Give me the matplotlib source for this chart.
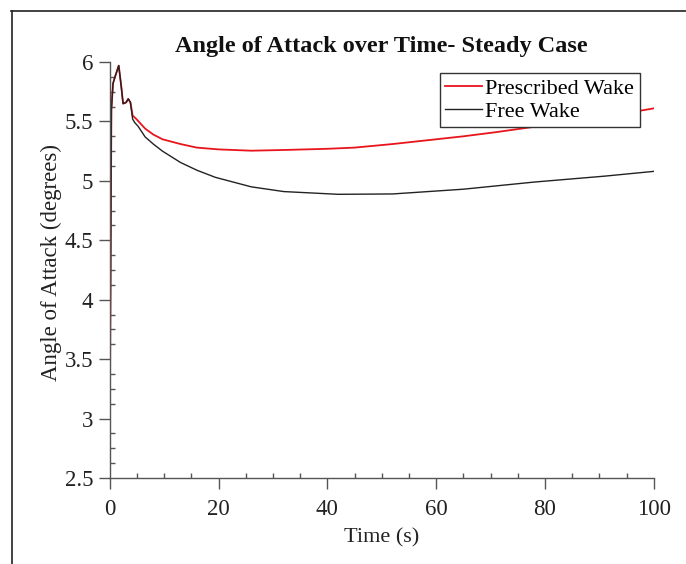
import matplotlib.pyplot as plt
import numpy as np
from matplotlib.lines import Line2D
from matplotlib.ticker import MultipleLocator, AutoMinorLocator

plt.rcParams['font.family'] = ['Liberation Serif', 'DejaVu Serif']

# prescribed wake solution
t_pres = [0, 0.3, 0.6, 1.0, 1.65, 2.1, 2.45, 3.0, 3.4, 3.8, 4.2, 4.9, 5.5, 6.5,
          8, 9.7, 13, 16, 20, 26, 32, 40, 45, 52, 58, 65, 71, 78, 85, 91, 100]
aoa_pres = [2.82, 5.6, 5.82, 5.88, 5.97, 5.8, 5.65, 5.66, 5.69, 5.66, 5.55, 5.52,
            5.49, 5.44, 5.39, 5.35, 5.31, 5.28, 5.265, 5.254, 5.26, 5.27, 5.28,
            5.31, 5.34, 5.375, 5.41, 5.455, 5.5, 5.54, 5.61]

# free wake solution
t_free = [0, 0.3, 0.6, 1.0, 1.65, 2.1, 2.45, 3.0, 3.4, 3.8, 4.2, 4.6, 5.2, 6.5,
          8, 9.7, 13, 16, 19.4, 26, 32, 42, 52, 65, 78, 91, 100]
aoa_free = [2.82, 5.6, 5.82, 5.88, 5.97, 5.8, 5.65, 5.66, 5.69, 5.66, 5.52, 5.49,
            5.46, 5.37, 5.31, 5.25, 5.155, 5.09, 5.03, 4.95, 4.91, 4.887, 4.89,
            4.93, 4.99, 5.04, 5.08]

fig = plt.figure(figsize=(6.86, 5.64), dpi=100)
ax = fig.add_axes([0.160, 0.1525, 0.793, 0.7375])

ax.plot(t_pres, aoa_pres, color='#e8141c', lw=1.3, label='Prescribed Wake')
ax.plot(t_free, aoa_free, color='#222222', lw=1.0, label='Free Wake')

ax.set_xlim(0, 100)
ax.set_ylim(2.5, 6)
ax.xaxis.set_major_locator(MultipleLocator(20))
ax.yaxis.set_major_locator(MultipleLocator(0.5))
ax.xaxis.set_minor_locator(AutoMinorLocator(4))
ax.yaxis.set_minor_locator(AutoMinorLocator(4))
ax.yaxis.set_major_formatter(plt.FuncFormatter(lambda v, p: f'{v:g}'))

for side in ['top', 'right']:
    ax.spines[side].set_visible(False)
for side in ['left', 'bottom']:
    ax.spines[side].set_color('#555555')
    ax.spines[side].set_linewidth(1.0)

ax.tick_params(which='major', direction='out', length=8, width=1.0,
               color='#555555', labelsize=16.5, labelcolor='#222222')
ax.tick_params(axis='x', which='major', pad=7)
ax.tick_params(axis='y', which='major', pad=4)
ax.tick_params(which='minor', direction='in', length=3.6, width=1.0,
               color='#555555')

ax.set_xlabel('Time (s)', fontsize=16, color='#222222', labelpad=6)
ax.set_ylabel('Angle of Attack (degrees)', fontsize=16.5, color='#222222')
ax.yaxis.set_label_coords(-0.087, 0.517)
ax.set_title('Angle of Attack over Time- Steady Case', fontsize=17.5,
             fontweight='bold', color='#111111', pad=7)

leg = ax.legend(loc='upper right', bbox_to_anchor=(0.974, 0.974),
                borderaxespad=0, fontsize=16, fancybox=False, framealpha=1,
                edgecolor='#333333', handlelength=1.65, handletextpad=0.15,
                labelspacing=0.1, borderpad=0.25)
leg.get_frame().set_linewidth(1.0)

# border round the figure
fig.add_artist(Line2D([11 / 686, 1], [1 - 11 / 564] * 2, color='#222222', lw=1.2,
                      transform=fig.transFigure))
fig.add_artist(Line2D([12 / 686] * 2, [0, 1 - 11 / 564], color='#222222', lw=1.2,
                      transform=fig.transFigure))

fig.savefig('out.png', dpi=100)
